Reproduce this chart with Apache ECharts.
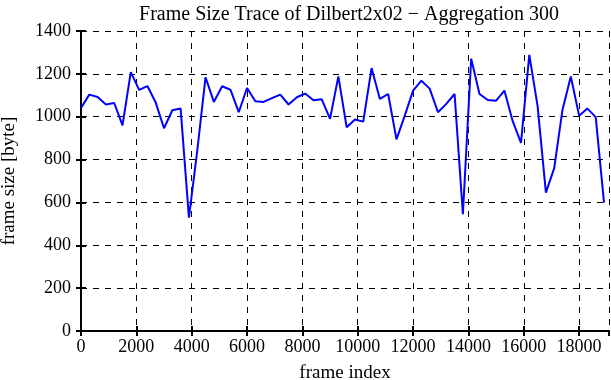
<!DOCTYPE html>
<html><head><meta charset="utf-8">
<script src="https://cdn.jsdelivr.net/npm/echarts@6/dist/echarts.min.js"></script>
<style>html,body{margin:0;padding:0;background:#fff}#c{width:611px;height:380px}</style>
</head><body><div id="c"></div>
<script>
const frameStep = 300;
const frameSizes = [1041,1103,1092,1057,1064,960,1208,1125,1143,1066,946,1030,1038,529,840,1184,1069,1142,1126,1021,1134,1072,1069,1087,1103,1057,1091,1108,1077,1081,990,1188,951,987,977,1227,1083,1106,894,1005,1122,1168,1131,1021,1060,1106,545,1271,1106,1078,1075,1122,979,878,1289,1049,646,760,1033,1188,1005,1038,998,599];
const titleText = 'Frame Size Trace of Dilbert2x02 \u2212 Aggregation 300';
const xName = 'frame index';
const yName = 'frame size [byte]';

const data = frameSizes.map((v, i) => [i * frameStep, v]);
const font = 'Liberation Serif';
const chart = echarts.init(document.getElementById('c'), null, {renderer: 'canvas'});
const splitDash = {show: true, lineStyle: {color: '#000', type: [6, 6], width: 1}};
const raw = v => String(v);
chart.setOption({
  animation: false,
  title: {text: titleText, left: 344, top: 0, textAlign: 'center',
    textStyle: {fontFamily: font, fontWeight: 'normal', fontSize: 20, color: '#000'}},
  grid: {left: 81, right: 2, top: 31, bottom: 49, containLabel: false, outerBoundsMode: 'none'},
  xAxis: [{
    type: 'value', min: 0, max: 19080, interval: 2000, position: 'bottom',
    name: xName, nameLocation: 'middle', nameGap: 33,
    nameTextStyle: {fontFamily: font, fontSize: 19, color: '#000'},
    axisLine: {show: true, lineStyle: {color: '#000', width: 2}},
    axisTick: {show: true, inside: true, length: 5, lineStyle: {color: '#000', width: 2}},
    axisLabel: {fontFamily: font, fontSize: 18, color: '#000', margin: 7, showMaxLabel: false, formatter: raw},
    splitLine: splitDash
  }, {
    type: 'value', min: 0, max: 19080, interval: 2000, position: 'top',
    axisLine: {show: true, lineStyle: {color: '#000', width: 2}},
    axisTick: {show: true, inside: true, length: 5, lineStyle: {color: '#000', width: 2}},
    axisLabel: {show: false}, splitLine: {show: false}
  }],
  yAxis: [{
    type: 'value', min: 0, max: 1400, interval: 200, position: 'left',
    name: yName, nameLocation: 'middle', nameGap: 62, nameRotate: 90,
    nameTextStyle: {fontFamily: font, fontSize: 19, color: '#000'},
    axisLine: {show: true, lineStyle: {color: '#000', width: 2}},
    axisTick: {show: true, inside: true, length: 5, lineStyle: {color: '#000', width: 2}},
    axisLabel: {fontFamily: font, fontSize: 18, color: '#000', margin: 10, formatter: raw},
    splitLine: splitDash
  }, {
    type: 'value', min: 0, max: 1400, interval: 200, position: 'right',
    axisLine: {show: true, lineStyle: {color: '#000', width: 2}},
    axisTick: {show: true, inside: true, length: 5, lineStyle: {color: '#000', width: 2}},
    axisLabel: {show: false}, splitLine: {show: false}
  }],
  series: [{
    type: 'line', data: data, xAxisIndex: 0, yAxisIndex: 0,
    showSymbol: false, lineStyle: {color: '#0000ff', width: 2}
  }]
});
</script></body></html>
